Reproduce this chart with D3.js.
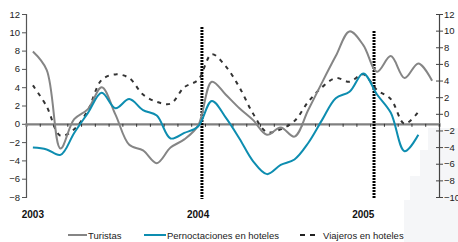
<!DOCTYPE html>
<html><head><meta charset="utf-8">
<script src="https://cdn.jsdelivr.net/npm/d3@7"></script>
<style>body{margin:0;background:#fff;}svg{display:block;font-family:"Liberation Sans",Arial,sans-serif;}</style>
</head><body>
<svg id="c" width="458" height="242"></svg>
<script>
const months = d3.range(30); // Jan 2003 .. Jun 2005
const yearLabels = ["2003","2004","2005"];
const yearIdx = [0,12,24];
const leftTicks = [-8,-6,-4,-2,0,2,4,6,8,10,12];
const rightTicks = [-10,-8,-6,-4,-2,0,2,4,6,8,10,12];
const turistas = [7.9,5.9,-2.7,0.5,1.6,4.0,1.0,-2.3,-2.9,-4.3,-2.6,-1.7,-0.2,4.6,3.2,1.7,0.4,-1.2,-0.4,-1.4,1.5,4.5,7.4,10.1,8.6,5.7,7.4,5.0,6.6,4.7];
const pernoctaciones = [-2.6,-2.8,-3.4,-1.0,1.2,3.4,1.7,2.7,1.5,0.9,-1.6,-1.0,-0.3,2.5,0.7,-1.6,-4.1,-5.5,-4.5,-3.9,-2.1,0.4,2.8,3.5,5.5,3.2,1.2,-3.0,-1.2];
const viajeros = [4.2,1.9,-1.3,-0.6,1.5,4.8,5.4,5.0,3.2,2.4,2.2,4.0,4.8,7.6,6.3,4.0,1.1,-0.9,-0.6,0.3,2.4,4.0,5.0,4.6,5.4,3.7,2.7,0.0,1.3];
const seriesNames = ["Turistas","Pernoctaciones en hoteles","Viajeros en hoteles"];

const svg = d3.select("#c");
// faint background artifact bottom-right
svg.append("path").attr("d","M428,128 L458,128 L458,242 L404,242 L404,200 L410,200 L410,176 L420,176 L420,150 L428,150 Z").attr("fill","#f5f6f8");

const x = d3.scaleLinear().domain([0,30]).range([26,439]);
const yL = d3.scaleLinear().domain([-8,12]).range([197,14]);
const yR = d3.scaleLinear().domain([-10,12]).range([197,14]);

// left axis
const gl = svg.append("g").attr("transform","translate(26,0)")
  .call(d3.axisLeft(yL).tickValues(leftTicks).tickSize(4).tickPadding(2).tickFormat(d3.format("d")));
gl.select(".domain").attr("stroke","#555").attr("stroke-width",1.2);
gl.selectAll(".tick line").attr("stroke","#555");
gl.selectAll("text").attr("font-size",9.5).attr("fill","#222").attr("font-family","Liberation Sans, Arial, sans-serif");

// right axis
const gr = svg.append("g").attr("transform","translate(439,0)")
  .call(d3.axisRight(yR).tickValues(rightTicks).tickSize(4).tickPadding(1).tickFormat(d3.format("d")));
gr.select(".domain").attr("stroke","#444").attr("stroke-width",1.2);
gr.selectAll(".tick line").attr("stroke","#444").attr("x1",-3);
gr.selectAll("text").attr("font-size",9.5).attr("fill","#222").attr("font-family","Liberation Sans, Arial, sans-serif");

// zero axis with month ticks
const gx = svg.append("g").attr("transform",`translate(0,${yL(0)})`)
  .call(d3.axisBottom(x).tickValues(d3.range(1,31)).tickSize(3).tickFormat(""));
gx.select(".domain").attr("stroke","#808080").attr("stroke-width",2.2);
gx.selectAll(".tick line").attr("stroke","#333");

// year labels
svg.selectAll(".yr").data(yearLabels).join("text")
  .attr("x",(d,i)=>x(yearIdx[i]+0.5)).attr("y",218)
  .attr("text-anchor","middle").attr("font-size",10).attr("font-weight","bold").attr("fill","#111")
  .text(d=>d);

// vertical dotted dividers
[[12.78,27],[25.28,31]].forEach(([p,top])=>{
  svg.append("line").attr("x1",x(p)).attr("x2",x(p)).attr("y1",top).attr("y2",199)
    .attr("stroke","#000").attr("stroke-width",3).attr("stroke-dasharray","2,1");
});

const line = d3.line().x((d,i)=>x(i+0.5)).y(d=>yL(d)).curve(d3.curveCatmullRom.alpha(0.5));
svg.append("path").datum(viajeros).attr("d",line).attr("fill","none")
  .attr("stroke","#333").attr("stroke-width",2).attr("stroke-dasharray","4,5");
svg.append("path").datum(turistas).attr("d",line).attr("fill","none")
  .attr("stroke","#858585").attr("stroke-width",2);
svg.append("path").datum(pernoctaciones).attr("d",line).attr("fill","none")
  .attr("stroke","#0d8db0").attr("stroke-width",2);

// legend
const lg = svg.append("g").attr("font-size",9.5).attr("fill","#222");
const legItems = [
  {x1:68,x2:87,tx:88,col:"#858585",dash:null},
  {x1:144,x2:166,tx:167,col:"#0d8db0",dash:null},
  {x1:300,x2:316,tx:323,col:"#222",dash:"5,5"}
];
legItems.forEach((it,i)=>{
  lg.append("line").attr("x1",it.x1).attr("x2",it.x2).attr("y1",235).attr("y2",235)
    .attr("stroke",it.col).attr("stroke-width",2).attr("stroke-dasharray",it.dash);
  lg.append("text").attr("x",it.tx).attr("y",238.5).text(seriesNames[i]);
});
</script>
</body></html>
